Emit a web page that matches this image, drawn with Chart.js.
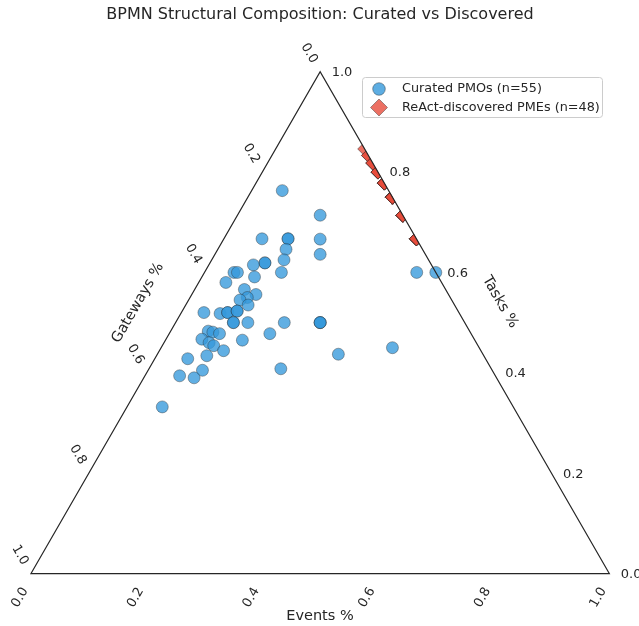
<!DOCTYPE html>
<html>
<head>
<meta charset="utf-8">
<script src="https://cdn.jsdelivr.net/npm/chart.js@4"></script>
<style>
  body { margin: 0; background: #fff; }
  canvas { display: block; }
</style>
</head>
<body>
<canvas id="ternaryChart" width="639" height="626"></canvas>
<script>
// curated PMOs: composition shares (events, tasks, gateways)
const curatedEvents = [0.053, 0.143, 0.066, 0.111, 0.111, 0.167, 0.118, 0.182, 0.125, 0.095, 0.095, 0.077,
    0.051, 0.057, 0.091, 0.133, 0.367, 0.400, 0.047, 0.086, 0.111, 0.099, 0.089, 0.108, 0.039, 0.068,
    0.080, 0.080, 0.095, 0.095, 0.100, 0.100, 0.125, 0.188, 0.250, 0.250, 0.250, 0.065, 0.074, 0.087,
    0.174, 0.062, 0.078, 0.089, 0.111, 0.133, 0.057, 0.087, 0.313, 0.400, 0.094, 0.228, 0.060, 0.087, 0.061];
const curatedTasks = [0.763, 0.714, 0.667, 0.667, 0.667, 0.667, 0.646, 0.636, 0.625, 0.619, 0.619, 0.615,
    0.600, 0.600, 0.591, 0.600, 0.600, 0.600, 0.580, 0.566, 0.556, 0.550, 0.545, 0.535, 0.520, 0.518,
    0.520, 0.520, 0.523, 0.523, 0.500, 0.500, 0.500, 0.500, 0.500, 0.500, 0.500, 0.483, 0.481, 0.478,
    0.478, 0.467, 0.460, 0.454, 0.444, 0.465, 0.428, 0.434, 0.437, 0.450, 0.405, 0.408, 0.394, 0.390, 0.332];
const curatedGateways = [0.184, 0.143, 0.267, 0.222, 0.222, 0.167, 0.236, 0.182, 0.250, 0.286, 0.286, 0.308,
    0.349, 0.343, 0.318, 0.267, 0.033, 0.000, 0.373, 0.348, 0.333, 0.351, 0.366, 0.357, 0.441, 0.414,
    0.400, 0.400, 0.382, 0.382, 0.400, 0.400, 0.375, 0.312, 0.250, 0.250, 0.250, 0.452, 0.445, 0.435,
    0.348, 0.471, 0.462, 0.457, 0.445, 0.402, 0.515, 0.479, 0.250, 0.150, 0.501, 0.364, 0.546, 0.523, 0.607];

// ReAct-discovered PMEs: no gateways at all
const discoveredEvents = [0.154, 0.167, 0.167, 0.182, 0.182, 0.182,
    0.200, 0.200, 0.200, 0.200, 0.200, 0.200, 0.200, 0.200,
    0.222, 0.222, 0.222, 0.222, 0.222, 0.222,
    0.250, 0.250, 0.250, 0.250, 0.250, 0.250, 0.250, 0.250, 0.250, 0.250, 0.250, 0.250,
    0.286, 0.286, 0.286, 0.286, 0.286, 0.286, 0.286, 0.286,
    0.333, 0.333, 0.333, 0.333, 0.333, 0.333, 0.333, 0.333];
const discoveredTasks = [0.846, 0.833, 0.833, 0.818, 0.818, 0.818,
    0.800, 0.800, 0.800, 0.800, 0.800, 0.800, 0.800, 0.800,
    0.778, 0.778, 0.778, 0.778, 0.778, 0.778,
    0.750, 0.750, 0.750, 0.750, 0.750, 0.750, 0.750, 0.750, 0.750, 0.750, 0.750, 0.750,
    0.714, 0.714, 0.714, 0.714, 0.714, 0.714, 0.714, 0.714,
    0.667, 0.667, 0.667, 0.667, 0.667, 0.667, 0.667, 0.667];
const discoveredGateways = discoveredTasks.map(() => 0);

const tickValues = [0.0, 0.2, 0.4, 0.6, 0.8, 1.0];
const tickLabels = ['0.0', '0.2', '0.4', '0.6', '0.8', '1.0'];

const titleText = 'BPMN Structural Composition: Curated vs Discovered';
const curatedLabel = 'Curated PMOs (n=55)';
const discoveredLabel = 'ReAct-discovered PMEs (n=48)';

const FONT = '"DejaVu Sans", sans-serif';
const TEXT = '#262626';

// ternary -> cartesian (x along base, y = tasks share)
function toXY(e, t, g) {
    const s = e + t + g;
    return { x: (e + (t / 2)) / s, y: t / s };
}

function pt(chart, e, t) {
    return {
        x: chart.scales.x.getPixelForValue(e + t / 2),
        y: chart.scales.y.getPixelForValue(t)
    };
}

function trianglePath(chart) {
    const ctx = chart.ctx;
    const a = pt(chart, 0, 0), b = pt(chart, 1, 0), c = pt(chart, 0, 1);
    ctx.beginPath();
    ctx.moveTo(a.x, a.y);
    ctx.lineTo(b.x, b.y);
    ctx.lineTo(c.x, c.y);
    ctx.closePath();
}

function rotatedText(ctx, text, x, y, angle) {
    ctx.save();
    ctx.translate(x, y);
    ctx.rotate(angle);
    ctx.fillText(text, 0, 0);
    ctx.restore();
}

const ternaryPlugin = {
    id: 'ternary',
    beforeDatasetDraw(chart, args) {
        if (args.index !== 1)
            return;
        chart.ctx.save();
        trianglePath(chart);
        chart.ctx.clip();
    },
    afterDatasetDraw(chart, args) {
        if (args.index !== 1)
            return;
        chart.ctx.restore();
    },
    afterDatasetsDraw(chart) {
        const ctx = chart.ctx;
        ctx.save();

        // frame
        trianglePath(chart);
        ctx.strokeStyle = '#262626';
        ctx.lineWidth = 1.25;
        ctx.lineJoin = 'miter';
        ctx.stroke();

        ctx.fillStyle = TEXT;
        ctx.font = '13px ' + FONT;
        ctx.textBaseline = 'middle';

        tickValues.forEach((v, i) => {
            // tasks, right side
            let p = pt(chart, 1 - v, v);
            ctx.textAlign = 'left';
            ctx.fillText(tickLabels[i], p.x + 11.5, p.y + 1);

            // events, bottom
            p = pt(chart, v, 0);
            ctx.textAlign = 'center';
            rotatedText(ctx, tickLabels[i], p.x - 11, p.y + 24, -Math.PI / 3);

            // gateways, left side
            p = pt(chart, 0, 1 - v);
            rotatedText(ctx, tickLabels[i], p.x - 11, p.y - 18.5, Math.PI / 3);
        });

        // axis titles
        ctx.font = '14.5px ' + FONT;
        ctx.textAlign = 'center';
        ctx.fillText('Events %', 320, 616);
        rotatedText(ctx, 'Tasks %', 500, 302, Math.PI / 3);
        rotatedText(ctx, 'Gateways %', 138, 303, -Math.PI / 3);

        // title
        ctx.font = '16px ' + FONT;
        ctx.fillText(titleText, 320, 15);

        // legend
        ctx.beginPath();
        ctx.roundRect(362.5, 77.5, 240, 40, 3);
        ctx.fillStyle = 'rgba(255,255,255,0.8)';
        ctx.fill();
        ctx.strokeStyle = '#cccccc';
        ctx.lineWidth = 1;
        ctx.stroke();

        ctx.beginPath();
        ctx.arc(379, 89, 6.3, 0, Math.PI * 2);
        ctx.fillStyle = 'rgba(52,152,219,0.8)';
        ctx.fill();
        ctx.strokeStyle = 'rgba(40,40,40,0.7)';
        ctx.lineWidth = 0.6;
        ctx.stroke();

        ctx.beginPath();
        ctx.moveTo(379, 99);
        ctx.lineTo(387.5, 107.5);
        ctx.lineTo(379, 116);
        ctx.lineTo(370.5, 107.5);
        ctx.closePath();
        ctx.fillStyle = 'rgba(231,76,60,0.8)';
        ctx.fill();
        ctx.stroke();

        ctx.fillStyle = TEXT;
        ctx.font = '12.8px ' + FONT;
        ctx.textAlign = 'left';
        ctx.fillText(curatedLabel, 402, 89);
        ctx.fillText(discoveredLabel, 402, 108);

        ctx.restore();
    }
};

const curatedPoints = curatedEvents.map((e, i) => toXY(e, curatedTasks[i], curatedGateways[i]));
const discoveredPoints = discoveredEvents.map((e, i) => toXY(e, discoveredTasks[i], discoveredGateways[i]));

new Chart(document.getElementById('ternaryChart'), {
    type: 'scatter',
    data: {
        datasets: [
            {
                label: curatedLabel,
                data: curatedPoints,
                pointStyle: 'circle',
                pointRadius: 6,
                backgroundColor: 'rgba(52,152,219,0.78)',
                borderColor: 'rgba(40,40,40,0.55)',
                borderWidth: 0.7,
                clip: false
            },
            {
                label: discoveredLabel,
                data: discoveredPoints,
                pointStyle: 'rectRot',
                pointRadius: 7,
                backgroundColor: 'rgba(231,76,60,0.8)',
                borderColor: 'rgba(40,40,40,0.8)',
                borderWidth: 0.6,
                clip: false
            }
        ]
    },
    options: {
        responsive: false,
        animation: false,
        layout: {
            padding: { left: 31, right: 29.7, top: 71.7, bottom: 52.5 }
        },
        scales: {
            x: { type: 'linear', min: 0, max: 1, display: false },
            y: { type: 'linear', min: 0, max: 1, display: false }
        },
        plugins: {
            legend: { display: false },
            title: { display: false },
            tooltip: { enabled: false }
        }
    },
    plugins: [ternaryPlugin]
});
</script>
</body>
</html>
